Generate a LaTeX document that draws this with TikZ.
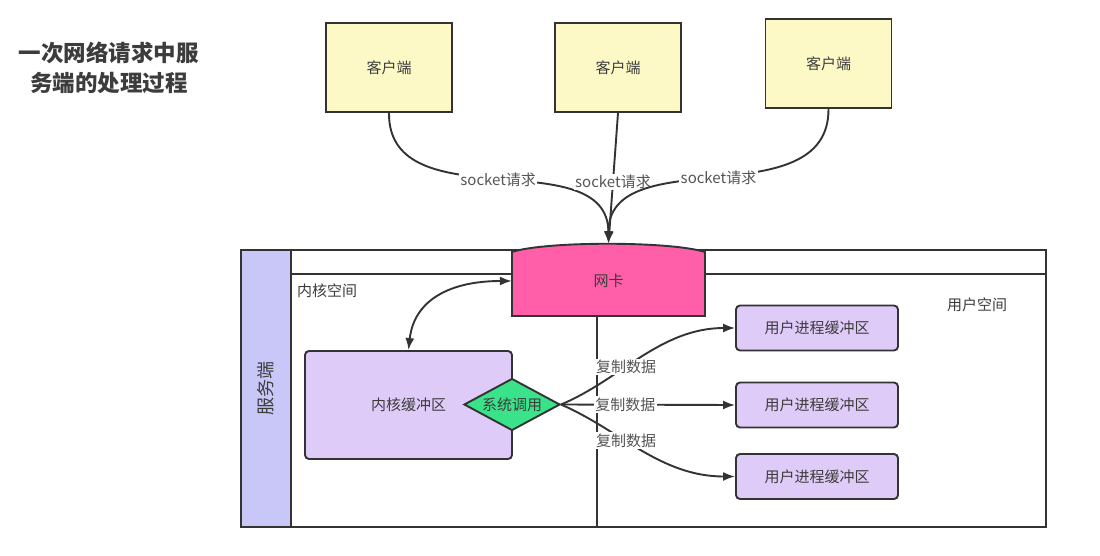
\documentclass[tikz,border=0pt]{standalone}
\usepackage{fontspec}
\setmainfont{Noto Sans CJK SC}
\usetikzlibrary{arrows.meta, shapes.geometric, calc, positioning}
\definecolor{lineGray}{HTML}{333333}
\definecolor{textGray}{HTML}{3C3C3C}
\definecolor{labelGray}{HTML}{555555}
\definecolor{clientYellow}{HTML}{FCF9C7}
\definecolor{nicPink}{HTML}{FF5EA9}
\definecolor{bufPurple}{HTML}{DFCBF8}
\definecolor{stripBlue}{HTML}{C9C7F7}
\definecolor{callGreen}{HTML}{3AE38A}
\newcommand{\boxFont}{\fontsize{15}{18}\selectfont}
\tikzset{
    frame/.style={draw=lineGray, line width=1.9pt},
    client/.style={rectangle, frame, fill=clientYellow, minimum width=126pt, minimum height=89pt, font=\boxFont, text=textGray},
    kbuf/.style={rectangle, frame, rounded corners=4pt, fill=bufPurple, minimum width=207pt, minimum height=108pt, font=\boxFont, text=textGray},
    ubuf/.style={rectangle, frame, rounded corners=4pt, fill=bufPurple, minimum width=162pt, minimum height=45pt, font=\boxFont, text=textGray},
    syscall/.style={diamond, frame, fill=callGreen, aspect=1.85, inner sep=0pt, minimum width=96pt, minimum height=52pt, font=\boxFont, text=textGray},
    nicShape/.style={frame, fill=nicPink},
    nic/.style={rectangle, inner sep=0pt, minimum width=193pt, minimum height=75pt, font=\boxFont, text=textGray},
    strip/.style={rectangle, frame, fill=stripBlue, rotate=90, minimum width=277pt, minimum height=50pt, font=\fontsize{18}{20}\selectfont, text=textGray},
    areaLabel/.style={font=\boxFont, text=textGray},
    title/.style={align=center, font=\fontsize{22.5}{30}\selectfont\bfseries, text=textGray},
    reqEdge/.style={->, >={Latex[length=12pt, width=9pt]}, draw=lineGray, line width=1.9pt},
    ioEdge/.style={<->, >={Latex[length=12pt, width=9pt]}, draw=lineGray, line width=1.9pt},
    lineLabel/.style={fill=white, inner sep=1.5pt, font=\boxFont, text=labelGray},
}
\newcommand{\drawReq}[3]{
    \draw[reqEdge] (#1) .. controls #2 and #3 .. (nic.north) node[lineLabel, pos=0.5] {socket请求};
}
\newcommand{\drawCopy}[4]{
    \draw[reqEdge] (call.east) .. controls #2 and #3 .. (#1) node[lineLabel, pos=#4] {复制数据};
}

\begin{document}
\begin{tikzpicture}[x=1pt, y=-1pt]
    \useasboundingbox (0,0) rectangle (1100,556);

    \node[title] (title) at (109,68) {一次网络请求中服\\务端的处理过程};

    \node[client] (c1) at (389,67.5) {客户端};
    \node[client] (c2) at (618,67.5) {客户端};
    \node[client] (c3) at (828.5,63.5) {客户端};

    % 服务端外框
    \draw[frame, fill=white] (241,250) rectangle (1046,527);
    \draw[frame] (291,274) -- (1046,274);
    \draw[frame] (597,316) -- (597,527);
    \node[strip] (server) at (266,388.5) {服务端};

    \draw[nicShape] (512,316) -- (512,252) .. controls (545,241) and (670,241) .. (705,252) -- (705,316) -- cycle;
    \node[nic] (nic) at (608.5,281) {网卡};

    \node[areaLabel] (kspace) at (327,291) {内核空间};
    \node[areaLabel] (uspace) at (977,305) {用户空间};

    \node[kbuf] (kbuf) at (408.5,405) {内核缓冲区};
    \node[syscall] (call) at (512,404.5) {系统调用};

    \node[ubuf] (u1) at (817,328) {用户进程缓冲区};
    \node[ubuf] (u2) at (817,405) {用户进程缓冲区};
    \node[ubuf] (u3) at (817,476.5) {用户进程缓冲区};

    \drawReq{c1.south}{(388,222)}{(608,140)}
    \draw[reqEdge] (c2.south) -- (nic.north) node[lineLabel, pos=0.53] {socket请求};
    \drawReq{c3.south}{(829,218)}{(608,140)}

    \draw[ioEdge] (kbuf.north) .. controls (414,300) and (450,281) .. (nic.west);

    \drawCopy{u1.west}{(620,380)}{(660,328)}{0.4}
    \draw[reqEdge] (call.east) -- (u2.west) node[lineLabel, pos=0.37] {复制数据};
    \drawCopy{u3.west}{(620,430)}{(660,476.5)}{0.4}

\end{tikzpicture}
\end{document}
